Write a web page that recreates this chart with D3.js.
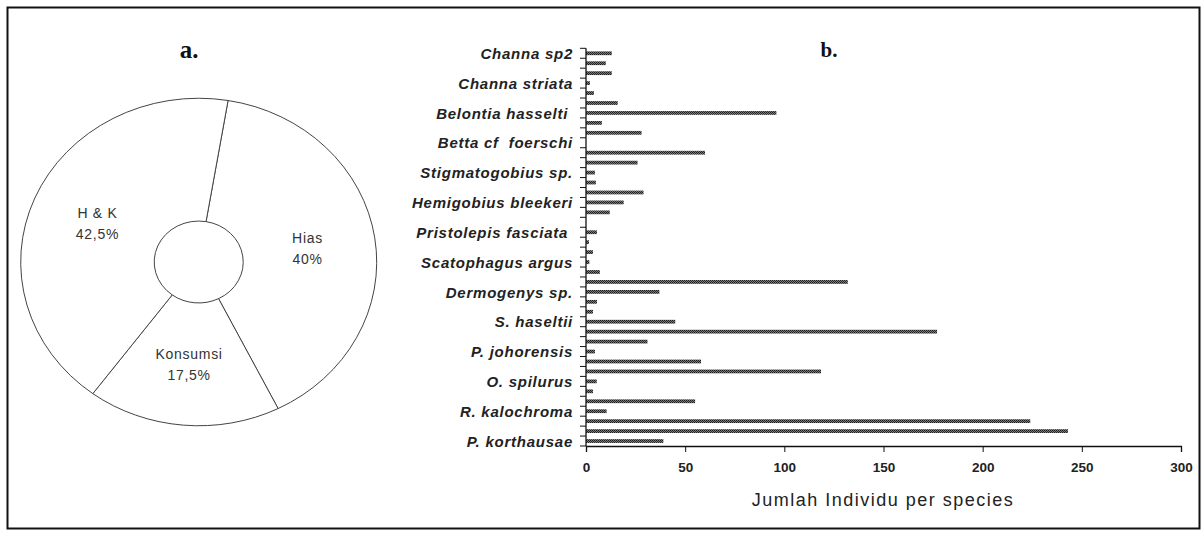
<!DOCTYPE html>
<html lang="en">
<head>
<meta charset="utf-8">
<title>chart</title>
<script src="https://cdn.jsdelivr.net/npm/d3@7/dist/d3.min.js"></script>
<style>
  body { margin: 0; background: #fff; }
  svg text { font-family: "Liberation Sans", Arial, sans-serif; }
</style>
</head>
<body>
<script>

// pie (a.)
var pieLabels = ["Hias", "Konsumsi", "H & K"];
var pieValues = [40, 17.5, 42.5];
var pieText = ["40%", "17,5%", "42,5%"];

// bar chart (b.), bars listed top to bottom
var barValues = [13, 10, 13, 2, 4, 16, 96, 8, 28, 0,
                 60, 26, 4.5, 5, 29, 19, 12, 0, 5.5, 1.5,
                 3.5, 1.7, 7, 132, 37, 5.5, 3.5, 45, 177, 31,
                 4.5, 58, 118.5, 5.4, 3.5, 55, 10.4, 224, 243, 39];
var tickLabels = ["Channa sp2", "Channa striata", "Belontia hasselti ", "Betta cf  foerschi",
                  "Stigmatogobius sp.", "Hemigobius bleekeri", "Pristolepis fasciata ",
                  "Scatophagus argus", "Dermogenys sp.", "S. haseltii", "P. johorensis",
                  "O. spilurus", "R. kalochroma", "P. korthausae"];
var xTicks = [0, 50, 100, 150, 200, 250, 300];

var svg = d3.select("body").append("svg")
    .attr("width", 1203)
    .attr("height", 533);

svg.append("rect")
   .attr("x", 7.5).attr("y", 7.5)
   .attr("width", 1192).attr("height", 521)
   .attr("fill", "none")
   .attr("stroke", "#111")
   .attr("stroke-width", 2);

// dithered bar fill
var pat = svg.append("defs").append("pattern")
   .attr("id", "dots")
   .attr("width", 2).attr("height", 2)
   .attr("patternUnits", "userSpaceOnUse");
pat.append("rect").attr("width", 2).attr("height", 2).attr("fill", "#7a7a7a");
pat.append("rect").attr("width", 1).attr("height", 1).attr("fill", "#1a1a1a");
pat.append("rect").attr("x", 1).attr("y", 1).attr("width", 1).attr("height", 1).attr("fill", "#2a2a2a");

// ---- a. donut ----
svg.append("text")
   .attr("x", 189).attr("y", 58)
   .attr("text-anchor", "middle")
   .style("font-family", "'Liberation Serif', 'DejaVu Serif', serif")
   .style("font-weight", "bold")
   .style("font-size", "25px")
   .attr("fill", "#111")
   .text("a.");

var cx = 198.7, cy = 262, sy = 0.92;
var pie = d3.pie().sort(null)
   .startAngle(9.5 * Math.PI / 180)
   .endAngle(9.5 * Math.PI / 180 + 2 * Math.PI);
var arcs = pie(pieValues);
var arc = d3.arc().innerRadius(44.5).outerRadius(178);
var labelArc = d3.arc().innerRadius(110).outerRadius(110);

var g = svg.append("g").attr("transform", "translate(" + cx + "," + cy + ") scale(1," + sy + ")");
g.selectAll("path")
   .data(arcs)
   .enter()
   .append("path")
   .attr("d", arc)
   .attr("fill", "#fff")
   .attr("stroke", "#444")
   .attr("stroke-width", 1)
   .attr("vector-effect", "non-scaling-stroke");

var lab = svg.selectAll("g.plab")
   .data(arcs)
   .enter()
   .append("g")
   .attr("class", "plab")
   .attr("transform", function(d) {
      var c = labelArc.centroid(d);
      return "translate(" + (cx + c[0]) + "," + (cy + c[1] * sy) + ")";
   });
lab.append("text")
   .attr("text-anchor", "middle")
   .attr("y", -4)
   .attr("fill", "#333")
   .style("font-size", "14px")
   .style("letter-spacing", "0.7px")
   .text(function(d, i) { return pieLabels[i]; });
lab.append("text")
   .attr("text-anchor", "middle")
   .attr("y", 17)
   .attr("fill", "#333")
   .style("font-size", "14px")
   .style("letter-spacing", "0.7px")
   .text(function(d, i) { return pieText[i]; });

// ---- b. bars ----
svg.append("text")
   .attr("x", 829).attr("y", 57)
   .attr("text-anchor", "middle")
   .style("font-family", "'Liberation Serif', 'DejaVu Serif', serif")
   .style("font-weight", "bold")
   .style("font-size", "21px")
   .attr("fill", "#111")
   .text("b.");

var x = d3.scaleLinear().domain([0, 300]).range([586, 1181]);
var y = d3.scaleBand()
   .domain(d3.range(barValues.length))
   .range([48.3, 446])
   .paddingInner(0.62)
   .paddingOuter(0.31);

svg.selectAll("rect.bar")
   .data(barValues)
   .enter()
   .append("rect")
   .attr("class", "bar")
   .attr("x", x(0))
   .attr("y", function(d, i) { return y(i); })
   .attr("width", function(d) { return x(d) - x(0); })
   .attr("height", y.bandwidth())
   .attr("fill", "url(#dots)");

// category ticks at band edges
var step = y.step();
var edges = d3.range(barValues.length + 1);
svg.selectAll("line.ct")
   .data(edges)
   .enter()
   .append("line")
   .attr("class", "ct")
   .attr("x1", x(0) - 6).attr("x2", x(0))
   .attr("y1", function(d) { return 48.3 + d * step; })
   .attr("y2", function(d) { return 48.3 + d * step; })
   .attr("stroke", "#111");

svg.append("line")
   .attr("x1", x(0)).attr("x2", x(0))
   .attr("y1", 48.3).attr("y2", 446)
   .attr("stroke", "#111").attr("stroke-width", 1.3);

svg.selectAll("text.cat")
   .data(tickLabels)
   .enter()
   .append("text")
   .attr("class", "cat")
   .attr("x", 573)
   .attr("y", function(d, i) { return y(i * 3) + y.bandwidth() / 2; })
   .attr("dy", "0.38em")
   .attr("text-anchor", "end")
   .style("font-size", "15px")
   .style("font-weight", "bold")
   .style("font-style", "italic")
   .style("letter-spacing", "0.75px")
   .attr("fill", "#222")
   .style("white-space", "pre")
   .text(function(d) { return d; });

var xAxis = d3.axisBottom(x).tickValues(xTicks).tickSize(6).tickPadding(10);
var ax = svg.append("g").attr("transform", "translate(0,446)").call(xAxis);
ax.select(".domain").attr("stroke", "#111").attr("stroke-width", 1.3);
ax.selectAll(".tick line").attr("stroke", "#111");
ax.selectAll(".tick text")
   .style("font-size", "13.5px")
   .style("font-weight", "bold")
   .style("font-family", "'Liberation Sans', Arial, sans-serif")
   .attr("fill", "#222");

svg.append("text")
   .attr("x", 883).attr("y", 506)
   .attr("text-anchor", "middle")
   .style("font-size", "18px")
   .style("letter-spacing", "1.5px")
   .attr("fill", "#222")
   .text("Jumlah Individu per species");

</script>
</body>
</html>
